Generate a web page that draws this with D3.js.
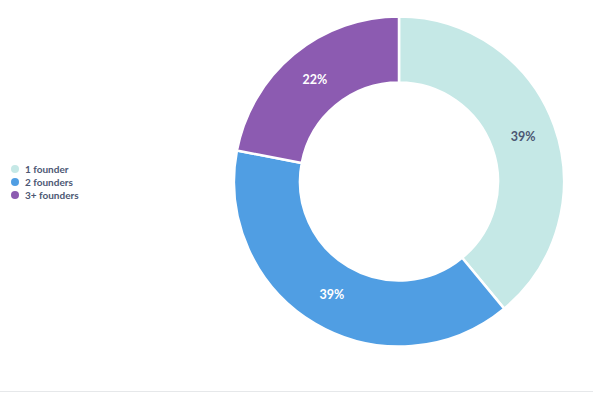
<!DOCTYPE html>
<html>
<head>
<meta charset="utf-8">
<script src="https://cdn.jsdelivr.net/npm/d3@7"></script>
<style>
  html, body { margin: 0; padding: 0; background: #fff; }
  svg { display: block; font-family: Lato, "Open Sans", sans-serif; }
</style>
</head>
<body>
<svg id="chart" width="593" height="393"></svg>
<script>
const categories = ["1 founder", "2 founders", "3+ founders"];
const values = [39, 39, 22];
const colors = ["#c5e8e6", "#509ee3", "#8c5bb1"];
const labelColors = ["#4c5773", "#ffffff", "#ffffff"];

const width = 593, height = 393;
const cx = 399, cy = 181.5;
const outerR = 165, innerR = 99;

const svg = d3.select("#chart");

// thin baseline at the bottom
svg.append("line")
  .attr("x1", 0).attr("x2", width)
  .attr("y1", 391.5).attr("y2", 391.5)
  .attr("stroke", "#e6e8ea").attr("stroke-width", 1);

const color = d3.scaleOrdinal().domain(categories).range(colors);

const pie = d3.pie().sort(null).value(d => d.value);
const data = categories.map((c, i) => ({ name: c, value: values[i], i: i }));
const arcs = pie(data);

const arc = d3.arc().innerRadius(innerR).outerRadius(outerR);
const labelArc = d3.arc().innerRadius(132).outerRadius(132);

const g = svg.append("g").attr("transform", `translate(${cx},${cy})`);

g.selectAll("path.slice")
  .data(arcs)
  .join("path")
  .attr("class", "slice")
  .attr("d", arc)
  .attr("fill", d => color(d.data.name))
  .attr("stroke", "#fff")
  .attr("stroke-width", 2.5);

const total = d3.sum(values);
g.selectAll("text.pct")
  .data(arcs)
  .join("text")
  .attr("class", "pct")
  .attr("transform", d => `translate(${labelArc.centroid(d)})`)
  .attr("text-anchor", "middle")
  .attr("dy", "0.35em")
  .attr("font-size", 12.5)
  .attr("font-weight", 700)
  .attr("fill", d => labelColors[d.data.i])
  .text(d => Math.round(d.data.value / total * 100) + "%");

// legend
const legend = svg.append("g").attr("transform", "translate(15,169)");
const item = legend.selectAll("g")
  .data(categories)
  .join("g")
  .attr("transform", (d, i) => `translate(0,${i * 13})`);

item.append("circle")
  .attr("r", 4)
  .attr("fill", d => color(d));

item.append("text")
  .attr("x", 10)
  .attr("dy", "0.35em")
  .attr("font-size", 10)
  .attr("font-weight", 700)
  .attr("fill", "#4c5773")
  .text(d => d);
</script>
</body>
</html>
